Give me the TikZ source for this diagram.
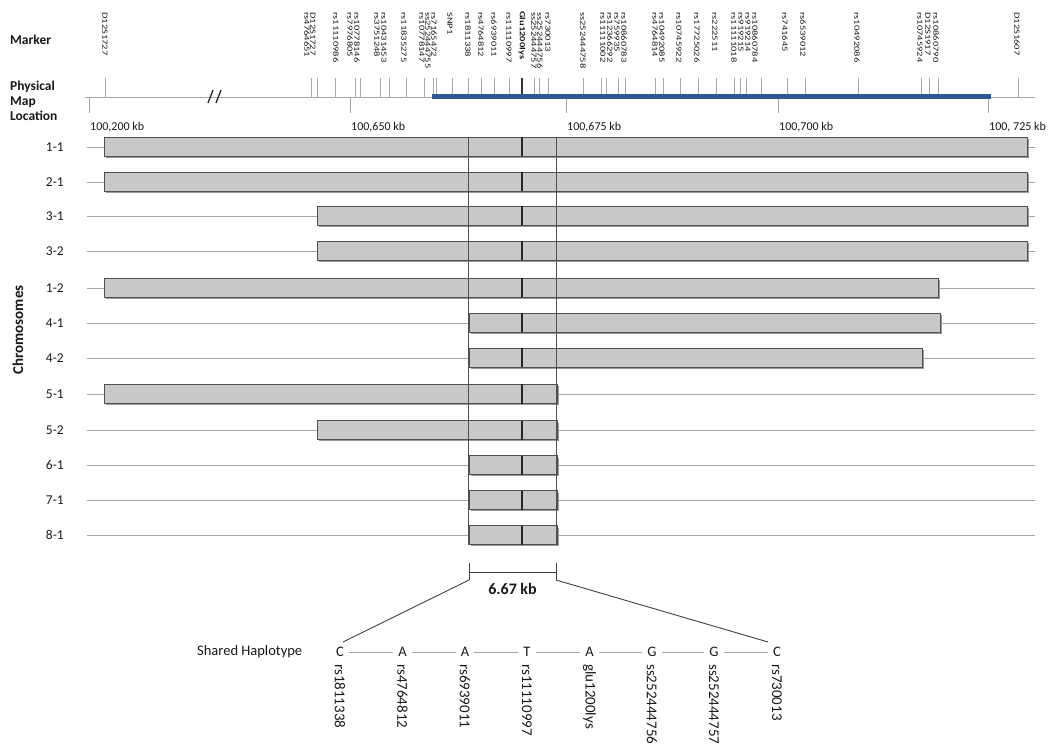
\documentclass[tikz,border=0pt]{standalone}
\usepackage{fontspec}
\setmainfont{Carlito}
\definecolor{boxfill}{RGB}{200,200,200}
\definecolor{boxline}{RGB}{80,80,80}
\definecolor{rowline}{RGB}{165,165,165}
\definecolor{tickgray}{RGB}{170,170,170}
\definecolor{mapblue}{RGB}{46,88,143}
\definecolor{txt}{RGB}{25,25,25}
\begin{document}
\begin{tikzpicture}[x=1pt,y=-1pt,
  every node/.style={text=txt,inner sep=0pt},
  hdr/.style={font=\fontsize{13.5}{15}\selectfont\bfseries},
  mlab/.style={rotate=-90,xscale=1.12,yscale=0.84,anchor=west,font=\fontsize{9.4}{10}\selectfont},
  mtick/.style={draw=tickgray,line width=0.8pt},
  axisline/.style={draw=rowline,line width=0.8pt},
  kblab/.style={anchor=west,font=\fontsize{12}{13}\selectfont},
  rowlab/.style={anchor=east,font=\fontsize{13.5}{15}\selectfont},
  chrbox/.style={draw=boxline,fill=boxfill,line width=1pt},
  shadow/.style={fill=black!40,draw=none},
  frame/.style={draw=boxline,line width=1pt},
  glu/.style={draw=black!85,line width=1.4pt},
  hap/.style={font=\fontsize{14.5}{16}\selectfont,inner sep=5pt},
  snplab/.style={rotate=-90,anchor=west,font=\fontsize{15}{16}\selectfont},
  hapline/.style={draw=rowline,line width=0.9pt},
  zoomline/.style={draw=black!75,line width=0.9pt}]
\useasboundingbox (0,0) rectangle (1050,751);

% headers
\node[hdr,anchor=west] (marker) at (10,40) {Marker};
\node[hdr,anchor=north west,align=left] (pml) at (10,81) {Physical\\Map\\Location};
\node[hdr,rotate=90,font=\fontsize{15}{16}\selectfont\bfseries] (chrom) at (18,330) {Chromosomes};

% physical map axis
\draw[axisline] (85,97) -- (1035,97);
\foreach \x/\lab in {89/{100,200 kb},350/{100,650 kb},566/{100,675 kb},778/{100,700 kb},988/{100, 725 kb}}{
  \draw[axisline] (\x,97) -- (\x,113);
  \node[kblab] at (\x+1,127) {\lab};
}
% marker ticks
\foreach \x in {105,311,317,335,355,360,380,389,406,424,433,436,452,468,481,494,509,534,539,548,583,601,606,618,625,655,663,680,698,716,734,740,746,761,787,805,858,921,929,938,1018}{
  \draw[mtick] (\x,78) -- (\x,97);
}
\draw[black!80,line width=1.3pt] (522,78) -- (522,97);
\draw[mapblue,line width=5pt] (432,97) -- (991,97);
% break symbol
\draw[black!85,line width=1.3pt] (208,103) -- (213,90) (216,103) -- (221,90);

% marker labels
\foreach \x/\lab in {105/D12S1727,307/rs4764651,313/D12S1727,336/rs11110986,350/rs7976805,357/rs10778146,377/rs3751248,384/rs10431453,404/rs11835275,422/rs10778147,428/ss252444755,434/rs7165472,450/SNP1,468/rs1811338,481/rs4764812,494/rs6939011,509/rs11110997,534/ss252444757,540/ss252444756,548/rs730013,583/ss252444758,603/rs11111002,610/rs12366292,617/rs759935,624/rs10860783,655/rs4764814,662/rs10492085,679/rs10745922,697/rs17725026,715/rs222511,734/rs11111018,741/rs919215,748/rs919214,755/rs10860784,785/rs741645,803/rs6539012,857/rs10492086,920/rs10745924,928/D12S1917,936/rs10860790,1017/D12S1607}{
  \node[mlab] at (\x,12) {\lab};
}
\node[mlab,font=\fontsize{9.4}{10}\selectfont\bfseries] (glumark) at (522,11) {Glu1200lys};

% chromosomes
\foreach \y/\lab/\a/\b in {147/1-1/104/1027,182/2-1/104/1027,216/3-1/317/1027,251/3-2/317/1027,288/1-2/104/938,323/4-1/469/940,358/4-2/469/922,394/5-1/104/557,430/5-2/317/557,465/6-1/469/557,500/7-1/469/557,535/8-1/469/557}{
  \node[rowlab] (r\lab) at (64,\y) {\lab};
  \draw[draw=rowline,line width=0.9pt] (87,\y) -- (1035,\y);
  \fill[shadow] (\a+1.8,\y-7.5) rectangle (\b+1.8,\y+10.8);
  \draw[chrbox] (\a,\y-9.5) rectangle (\b,\y+9.5);
  \draw[glu] (522,\y-9.5) -- (522,\y+9.5);
}
\draw[frame] (468,137.5) -- (468,544.5);
\draw[frame] (556,137.5) -- (556,544.5);

% 6.67 kb bracket
\coordinate (bl) at (469,580);
\coordinate (br) at (556,580);
\draw[zoomline] (469,563) -- (bl) (556,563) -- (br) (469,572) -- (556,572);
\node[font=\fontsize{16}{18}\selectfont\bfseries] (kb) at (512.5,589) {6.67 kb};

% shared haplotype
\node[anchor=west,font=\fontsize{14.5}{16}\selectfont] (shlab) at (197,652) {Shared Haplotype};
\foreach \i/\x/\b/\s in {1/340/C/rs1811338,2/402.5/A/rs4764812,3/465/A/rs6939011,4/527/T/rs11110997,5/589.5/A/glu1200lys,6/652/G/ss252444756,7/714/G/ss252444757,8/777/C/rs730013}{
  \node[hap] (h\i) at (\x,652) {\b};
  \node[snplab] (s\i) at (\x,664) {\s};
}
\foreach \i/\j in {1/2,2/3,3/4,4/5,5/6,6/7,7/8}{
  \draw[hapline] (h\i) -- (h\j);
}
\coordinate (hl) at (343,642);
\coordinate (hr) at (768,642);
\draw[zoomline] (bl) -- (hl);
\draw[zoomline] (br) -- (hr);
\end{tikzpicture}
\end{document}
